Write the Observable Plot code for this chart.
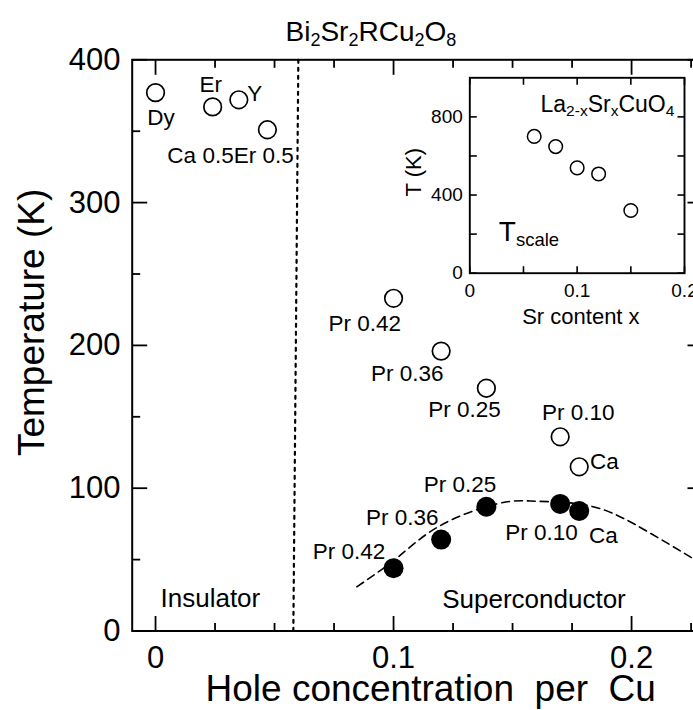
<!DOCTYPE html>
<html><head><meta charset="utf-8">
<script src="https://cdn.jsdelivr.net/npm/d3@7"></script>
<script src="https://cdn.jsdelivr.net/npm/@observablehq/plot@0.6"></script>
<style>
html,body{margin:0;padding:0;background:#fff;overflow:hidden;}
#wrap{position:relative;width:693px;height:710px;overflow:hidden;background:#fff;}
#wrap svg{position:absolute;}
svg text{white-space:pre;}
</style></head><body><div id="wrap"></div>
<script>
// ---------- data ----------
const openLabels = ["Dy", "Er", "Y", "Ca 0.5Er 0.5", "Pr 0.42", "Pr 0.36", "Pr 0.25", "Pr 0.10", "Ca"];
const openX = [0.000, 0.024, 0.035, 0.047, 0.100, 0.120, 0.139, 0.170, 0.178];
const openT = [377, 367, 372, 351, 233, 196, 170, 136, 115];

const filledLabels = ["Pr 0.42", "Pr 0.36", "Pr 0.25", "Pr 0.10", "Ca"];
const filledX = [0.100, 0.120, 0.139, 0.170, 0.178];
const filledT = [44, 64, 87, 89, 84];

// dashed Tc dome
const domeX = [0.0846, 0.1015, 0.1197, 0.1436, 0.1576, 0.170, 0.187, 0.2059, 0.2248, 0.2265];
const domeT = [31, 51.3, 73.9, 89.1, 91, 90.2, 85.6, 70.4, 51.7, 49.5];

// dotted insulator / superconductor boundary
const boundaryX = [0.0600, 0.0579];
const boundaryT = [400, 0];

// inset: La2-xSrxCuO4 T_scale
const insetX = [0.06, 0.08, 0.10, 0.12, 0.15];
const insetT = [700, 648, 539, 508, 321];

// axes / ticks
const xDomain = [-0.0098, 0.2298];
const yDomain = [0, 400];
const xMajorTicks = [0, 0.1, 0.2];
const xMinorTicks = [0.025, 0.05, 0.075, 0.125, 0.15, 0.175, 0.225];
const yMajorTicks = [0, 100, 200, 300, 400];
const yMinorTicks = [50, 150, 250, 350];
const insetXDomain = [0, 0.2];
const insetYDomain = [0, 1000];
const insetXTicks = [0, 0.05, 0.1, 0.15, 0.2];
const insetXTickLabels = [0, 0.1, 0.2];
const insetYTicks = [0, 200, 400, 600, 800];
const insetYTickLabels = [0, 400, 800];

const titleText = "Bi2Sr2RCu2O8";
const xLabel = "Hole concentration  per  Cu";
const yLabel = "Temperature (K)";
const insetTitle = "La2-xSrxCuO4";
const insetTag = "Tscale";
const insetXLabel = "Sr content x";
const insetYLabel = "T (K)";
const regionLabels = ["Insulator", "Superconductor"];

// ---------- layout (styling only) ----------
const font = "'Liberation Sans', Arial, Helvetica, sans-serif";
const openOffsets = {
  "Dy": [5.5, 32.5, "middle"], "Er": [-2, -14.5, "middle"], "Y": [8.4, 1, "start"],
  "Ca 0.5Er 0.5": [26.3, 33.3, "end"], "Pr 0.42": [7.4, 32.7, "end"], "Pr 0.36": [2.3, 30, "end"],
  "Pr 0.25": [14.3, 28.4, "end"], "Pr 0.10": [18, -16.7, "middle"], "Ca": [10.7, 2.3, "start"]
};
const filledOffsets = {
  "Pr 0.42": [-8.3, -9.3, "end"], "Pr 0.36": [-2.7, -15, "end"], "Pr 0.25": [10, -15, "end"],
  "Pr 0.10": [17.7, 36, "end"], "Ca": [9.7, 31.7, "start"]
};

const openData = openLabels.map((label, i) => ({label, x: openX[i], t: openT[i]}));
const filledData = filledLabels.map((label, i) => ({label, x: filledX[i], t: filledT[i]}));
const domeData = domeX.map((x, i) => ({x, t: domeT[i]}));
const boundaryData = boundaryX.map((x, i) => ({x, t: boundaryT[i]}));
const insetData = insetX.map((x, i) => ({x, t: insetT[i]}));

const labelMarks = (data, offsets) => data.map(d => {
  const [dx, dy, anchor] = offsets[d.label];
  return Plot.text([d], {x: "x", y: "t", text: "label", dx, dy, textAnchor: anchor,
    lineAnchor: "bottom", fontSize: 22.5, fontFamily: font, fill: "black"});
});

const fmt = d => String(d);

// inward tick segments (tick length converted from pixels into data units of the frame)
function tickLinks(xd, yd, W, H, specs, sw) {
  const ux = (xd[1] - xd[0]) / W, uy = (yd[1] - yd[0]) / H;
  const segs = [];
  for (const [side, ticks, len] of specs) {
    for (const t of ticks) {
      if (side === "bottom") segs.push({x1: t, x2: t, y1: yd[0], y2: yd[0] + len * uy});
      if (side === "top") segs.push({x1: t, x2: t, y1: yd[1], y2: yd[1] - len * uy});
      if (side === "left") segs.push({x1: xd[0], x2: xd[0] + len * ux, y1: t, y2: t});
      if (side === "right") segs.push({x1: xd[1], x2: xd[1] - len * ux, y1: t, y2: t});
    }
  }
  return Plot.link(segs, {x1: "x1", y1: "y1", x2: "x2", y2: "y2", stroke: "black", strokeWidth: sw});
}

const M = {width: 703, height: 710, marginLeft: 131.7, marginRight: 1, marginTop: 59.3, marginBottom: 79.5};
const MW = M.width - M.marginLeft - M.marginRight;
const MH = M.height - M.marginTop - M.marginBottom;

const main = Plot.plot({
  ...M,
  x: {domain: xDomain, axis: null},
  y: {domain: yDomain, axis: null},
  style: {fontFamily: font, background: "transparent", maxWidth: "none", overflow: "visible", color: "black"},
  marks: [
    Plot.axisX({anchor: "bottom", label: null, ticks: xMajorTicks, tickSize: 0, tickPadding: 14.5, tickFormat: fmt, fontSize: 31, fontFamily: font, fill: "black"}),
    Plot.axisY({anchor: "left", label: null, ticks: yMajorTicks, tickSize: 0, tickPadding: 11.7, tickFormat: fmt, fontSize: 31, fontFamily: font, fill: "black"}),
    Plot.line(boundaryData, {x: "x", y: "t", stroke: "black", strokeWidth: 2.2, strokeDasharray: "3,5"}),
    Plot.line(domeData, {x: "x", y: "t", curve: "natural", stroke: "black", strokeWidth: 1.6, strokeDasharray: "8,5"}),
    Plot.dot(openData, {x: "x", y: "t", r: 8.8, stroke: "black", strokeWidth: 1.7, fill: "white"}),
    Plot.dot(filledData, {x: "x", y: "t", r: 10, fill: "black", stroke: "none"}),
    ...labelMarks(openData, openOffsets),
    ...labelMarks(filledData, filledOffsets),
    Plot.text([regionLabels[0]], {frameAnchor: "bottom-left", dx: 28.3, dy: -23.8, textAnchor: "start", lineAnchor: "bottom", fontSize: 26, fontFamily: font, fill: "black"}),
    Plot.text([regionLabels[1]], {frameAnchor: "bottom-left", dx: 310, dy: -23.5, textAnchor: "start", lineAnchor: "bottom", fontSize: 26, fontFamily: font, fill: "black"}),
    Plot.text([titleText], {frameAnchor: "top-left", dx: 153.3, dy: -19.3, textAnchor: "start", lineAnchor: "bottom", fontSize: 28, fontFamily: font, fill: "black"}),
    Plot.text([xLabel], {frameAnchor: "bottom-left", dx: 73.3, dy: 69.5, textAnchor: "start", lineAnchor: "bottom", fontSize: 37, fontFamily: font, fill: "black"}),
    Plot.text([yLabel], {frameAnchor: "left", dx: -88.7, dy: -23, rotate: -90, textAnchor: "middle", lineAnchor: "bottom", fontSize: 37, fontFamily: font, fill: "black"}),
    tickLinks(xDomain, yDomain, MW, MH, [
      ["bottom", xMinorTicks, 8], ["bottom", xMajorTicks, 15],
      ["top", xMinorTicks, 8], ["top", xMajorTicks, 15],
      ["left", yMinorTicks, 8], ["left", yMajorTicks, 15],
      ["right", yMinorTicks, 8], ["right", yMajorTicks, 15]
    ], 1.8),
    Plot.frame({stroke: "black", strokeWidth: 2})
  ]
});

const I = {width: 293, height: 280, marginLeft: 69.3, marginRight: 9, marginTop: 17.3, marginBottom: 67.3};
const IW = I.width - I.marginLeft - I.marginRight;
const IH = I.height - I.marginTop - I.marginBottom;

const inset = Plot.plot({
  ...I,
  x: {domain: insetXDomain, axis: null},
  y: {domain: insetYDomain, axis: null},
  style: {fontFamily: font, background: "transparent", maxWidth: "none", overflow: "visible", color: "black"},
  marks: [
    Plot.axisX({anchor: "bottom", label: null, ticks: insetXTickLabels, tickSize: 0, tickPadding: 10, tickFormat: fmt, fontSize: 19, fontFamily: font, fill: "black"}),
    Plot.axisY({anchor: "left", label: null, ticks: insetYTickLabels, tickSize: 0, tickPadding: 7, tickFormat: fmt, fontSize: 19, fontFamily: font, fill: "black"}),
    Plot.dot(insetData, {x: "x", y: "t", r: 6.8, stroke: "black", strokeWidth: 1.5, fill: "white"}),
    Plot.text([insetTitle], {frameAnchor: "top-left", dx: 70.7, dy: 34.4, textAnchor: "start", lineAnchor: "bottom", fontSize: 23, fontFamily: font, fill: "black"}),
    Plot.text([insetTag], {frameAnchor: "top-left", dx: 29, dy: 162.7, textAnchor: "start", lineAnchor: "bottom", fontSize: 28, fontFamily: font, fill: "black"}),
    Plot.text([insetXLabel], {frameAnchor: "bottom-left", dx: 52.4, dy: 50.6, textAnchor: "start", lineAnchor: "bottom", fontSize: 22, fontFamily: font, fill: "black"}),
    Plot.text([insetYLabel], {frameAnchor: "left", dx: -49.3, dy: -3.3, rotate: -90, textAnchor: "middle", lineAnchor: "bottom", fontSize: 22, fontFamily: font, fill: "black"}),
    tickLinks(insetXDomain, insetYDomain, IW, IH, [
      ["bottom", insetXTicks, 7], ["top", insetXTicks, 7],
      ["left", insetYTicks, 7], ["right", insetYTicks, 7]
    ], 1.6),
    Plot.frame({stroke: "black", strokeWidth: 1.9})
  ]
});

main.style.left = "0px"; main.style.top = "0px";
inset.style.left = "400px"; inset.style.top = "60px";
const wrap = document.getElementById("wrap");
wrap.appendChild(main);
wrap.appendChild(inset);

// rich text: subscripts
function richText(svg, raw, parts, subSize, shift) {
  d3.select(svg).selectAll("text").filter(function() { return this.textContent === raw; }).each(function() {
    const el = d3.select(this);
    el.text(null);
    let prevSub = false;
    parts.forEach(([s, isSub]) => {
      const t = el.append("tspan").text(s);
      if (isSub) t.attr("font-size", subSize);
      if (isSub && !prevSub) t.attr("dy", shift);
      if (!isSub && prevSub) t.attr("dy", -shift);
      prevSub = isSub;
    });
  });
}
richText(main, titleText, [["Bi", 0], ["2", 1], ["Sr", 0], ["2", 1], ["RCu", 0], ["2", 1], ["O", 0], ["8", 1]], 18, 5);
richText(inset, insetTitle, [["La", 0], ["2-x", 1], ["Sr", 0], ["x", 1], ["CuO", 0], ["4", 1]], 15.5, 4);
richText(inset, insetTag, [["T", 0], ["scale", 1]], 18.5, 5);
d3.select(main).selectAll("text").filter(function() { return this.textContent === xLabel; }).attr("xml:space", "preserve");
</script></body></html>
